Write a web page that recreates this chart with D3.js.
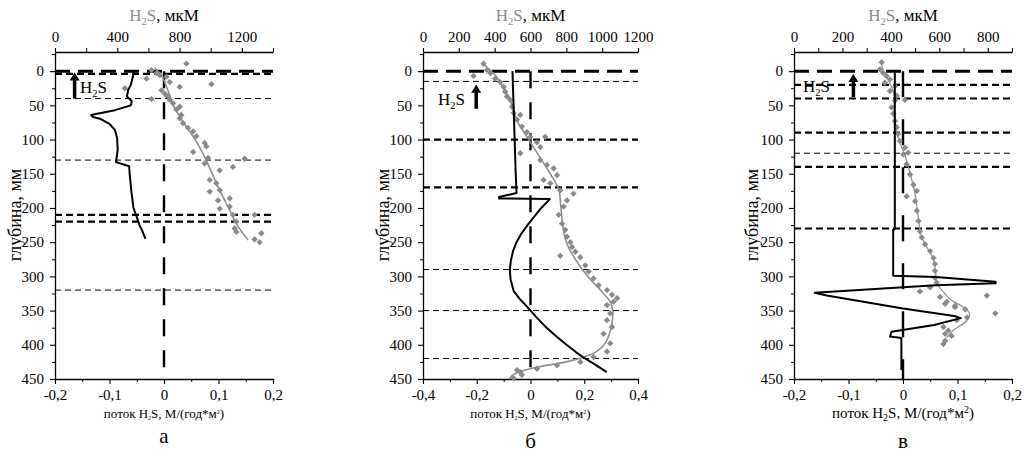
<!DOCTYPE html>
<meta charset="utf-8">
<script src="https://cdn.jsdelivr.net/npm/d3@7"></script>
<style>
  body { margin: 0; background: #fff; }
  svg text { font-family: "Liberation Serif", "Times New Roman", serif; }
</style>
<div id="chart"></div>
<script>

// ---- data ----
var depthTicks = [0, 50, 100, 150, 200, 250, 300, 350, 400, 450];
var depthMinor = [-25, 25, 75, 125, 175, 225, 275, 325, 375, 425];

// panel a
var fluxTicksA = [-0.2, -0.1, 0, 0.1, 0.2];
var fluxMinorA = [-0.15, -0.05, 0.05, 0.15];
var concTicksA = [0, 400, 800, 1200];
var concMinorA = [200, 600, 1000, 1400];
var surfaceA = [0];
var heavyA = [4, 210, 220];
var lightA = [40, 130, 320];
var arrowA = [-0.164, 40, 2];
var fluxA = [[-0.055,0],[-0.057,8],[-0.061,20],[-0.066,28],[-0.068,37],[-0.059,44],[-0.061,50],[-0.09,57],[-0.134,64],[-0.13,67],
  [-0.116,70],[-0.1,77],[-0.09,86],[-0.086,98],[-0.085,115],[-0.088,133],[-0.064,139],[-0.063,150],[-0.06,175],[-0.056,200],
  [-0.05,213],[-0.045,225],[-0.04,233],[-0.034,245]];
var concA = [[844,-11],[620,-1.5],[652,3],[673,6],[716,8],[588,11],[737,16],[801,23],[1004,19],[449,25],[684,28],[705,33],
  [620,41],[726,37],[737,42],[758,47],[801,52],[780,56],[812,64],[801,69],[822,76],[855,83],[887,88],[908,95],[961,105],
  [972,110],[887,118],[1218,128],[983,127],[961,135],[1058,145],[1143,140],[994,159],[1036,164],[994,176],[1058,174],
  [1047,189],[1122,186],[1058,201],[1122,198],[1143,210],[1282,210],[1165,220],[1154,230],[1165,235],[1282,246],[1314,250],[1325,237]];
var fitA = [[640,-5],[680,5],[720,25],[760,50],[825,75],[900,100],[960,125],[1010,150],[1060,175],[1115,200],[1170,225],[1240,247]];

// panel b
var fluxTicksB = [-0.4, -0.2, 0, 0.2, 0.4];
var fluxMinorB = [-0.3, -0.1, 0.1, 0.3];
var concTicksB = [0, 200, 400, 600, 800, 1000, 1200];
var concMinorB = [];
var surfaceB = [0];
var heavyB = [100, 170];
var lightB = [15, 290, 350, 420];
var arrowB = [-0.202, 55, 20];
var fluxB = [[-0.067,0],[-0.063,50],[-0.059,100],[-0.055,150],[-0.052,178],[-0.117,184],[-0.117,186],[0.072,187],[0.04,200],
  [-0.009,224],[-0.035,238],[-0.052,250],[-0.065,263],[-0.073,277],[-0.077,290],[-0.074,305],[-0.062,322],[-0.04,333],
  [-0.018,342],[0,350],[0.025,361],[0.06,375],[0.1,389],[0.134,400],[0.17,411],[0.203,420],[0.245,430],[0.284,440]];
var concB = [[338,-11],[282,7],[357,-1.5],[376,3],[403,11],[431,16],[450,23],[459,30],[469,37],[487,42],[497,52],[506,61],
  [543,64],[525,71],[552,81],[580,89],[599,96],[682,96],[636,104],[655,111],[543,120],[655,130],[692,137],[729,142],[748,152],
  [673,159],[711,164],[766,174],[840,179],[804,189],[785,198],[757,210],[776,223],[794,232],[804,242],[822,250],[832,257],
  [850,264],[766,270],[878,272],[906,284],[925,293],[952,303],[980,313],[1027,320],[1055,327],[1083,332],[1027,342],[1064,337],
  [1045,354],[1027,364],[1055,374],[1008,384],[1045,398],[1027,410],[952,418],[878,425],[748,430],[636,435],[543,440],
  [525,437],[506,449],[552,444]];
var fitB = [[338,-10],[400,5],[450,25],[490,45],[530,75],[590,100],[650,125],[710,150],[760,175],[770,200],[780,225],[800,250],
  [850,275],[920,300],[990,320],[1050,340],[1060,355],[1045,380],[1010,400],[930,415],[800,425],[650,432],[530,440],[480,450]];

// panel c
var fluxTicksC = [-0.2, -0.1, 0, 0.1, 0.2];
var fluxMinorC = [-0.15, -0.05, 0.05, 0.15];
var concTicksC = [0, 200, 400, 600, 800];
var concMinorC = [100, 300, 500, 700, 900];
var surfaceC = [0];
var heavyC = [20, 40, 90, 140, 230];
var lightC = [120];
var arrowC = [-0.091, 38, 4];
var fluxC = [[-0.015,0],[-0.015,231],[-0.018,232],[-0.018,299],[0.06,301],[0.17,308],[0.17,310],[0.06,313],[-0.162,324],
  [-0.14,328],[0,347],[0.094,358],[0.106,361],[0.057,371],[-0.021,381],[-0.024,388],[-0.003,390],[-0.003,437]];
var concC = [[362,-13],[355,-2.5],[368,2.5],[382,7],[396,12],[375,17],[417,22],[396,29],[424,36],[458,42],[417,43],[403,53],
  [410,62],[417,73],[424,82],[430,92],[437,102],[458,112],[472,119],[451,122],[465,136],[479,151],[493,166],[507,175],
  [465,183],[500,190],[507,204],[514,219],[520,234],[527,243],[541,253],[562,263],[576,273],[582,282],[582,292],[582,302],
  [589,309],[562,316],[520,322],[603,330],[631,337],[665,343],[796,328],[624,340],[665,345],[707,348],[714,360],[831,354],
  [672,364],[617,374],[637,379],[624,384],[651,387],[624,394],[617,399]];
var fitC = [[360,-12],[370,0],[385,10],[405,25],[415,40],[412,60],[420,80],[432,100],[455,120],[480,150],[500,180],[512,210],
  [525,240],[550,258],[575,275],[585,295],[590,310],[615,322],[650,335],[700,345],[725,355],[710,366],[660,378],[630,390]];

// ---- layout ----
var svg = d3.select("#chart").append("svg")
    .attr("width", 1025)
    .attr("height", 458);

var y = d3.scaleLinear().domain([-28, 450]).range([52, 379]);

var loc = d3.formatLocale({decimal: ",", thousands: "", grouping: [3], currency: ["", ""], minus: "-"});
var fmt = loc.format("");
var fmtInt = d3.format("d");

var panels = [
  {left: 55, right: 273, flux: [-0.2, 0.2], conc: [0, 1400], fT: fluxTicksA, fM: fluxMinorA, cT: concTicksA, cM: concMinorA,
   surf: surfaceA, heavy: heavyA, light: lightA, arrow: arrowA, fl: fluxA, pts: concA, fit: fitA,
   zeroDash: "17,14", letter: "а", letterY: 443, yLabX: 15, h2sX: 80, h2sY: 93, big: false},
  {left: 423, right: 638, flux: [-0.4, 0.4], conc: [0, 1200], fT: fluxTicksB, fM: fluxMinorB, cT: concTicksB, cM: concMinorB,
   surf: surfaceB, heavy: heavyB, light: lightB, arrow: arrowB, fl: fluxB, pts: concB, fit: fitB,
   zeroDash: "17,14", letter: "б", letterY: 448, yLabX: 383, h2sX: 438, h2sY: 105, big: false},
  {left: 794, right: 1012, flux: [-0.2, 0.2], conc: [0, 900], fT: fluxTicksC, fM: fluxMinorC, cT: concTicksC, cM: concMinorC,
   surf: surfaceC, heavy: heavyC, light: lightC, arrow: arrowC, fl: fluxC, pts: concC, fit: fitC,
   zeroDash: "26,22", letter: "в", letterY: 448, yLabX: 752, h2sX: 803, h2sY: 92, big: true}
];

function styleAxis(g, size) {
  g.attr("font-family", null).attr("font-size", size);
  g.select(".domain").attr("stroke", "#000").attr("stroke-width", 1.3);
  g.selectAll(".tick line").attr("stroke", "#000").attr("stroke-width", 1.1);
  g.selectAll(".tick text").attr("fill", "#000");
}

function h2s(sel, x, yy, size, grey) {
  var col = grey ? "#8a8a8a" : "#000";
  var t = sel.append("text").attr("x", x).attr("y", yy).attr("font-size", size);
  t.append("tspan").text("H").attr("fill", col);
  t.append("tspan").text("2").attr("font-size", size * 0.62).attr("dy", size * 0.25).attr("fill", col);
  t.append("tspan").text("S").attr("dy", -size * 0.25).attr("fill", col);
  return t;
}

panels.forEach(function(p) {
  var x = d3.scaleLinear().domain(p.flux).range([p.left, p.right]);
  var c = d3.scaleLinear().domain(p.conc).range([p.left, p.right]);
  var g = svg.append("g");
  var mid = (p.left + p.right) / 2;

  // left axis
  var la = g.append("g").attr("transform", "translate(" + p.left + ",0)")
    .call(d3.axisLeft(y).tickValues(depthTicks).tickSize(5).tickSizeOuter(0).tickPadding(6));
  styleAxis(la, 15);
  g.append("g").attr("transform", "translate(" + p.left + ",0)")
    .call(d3.axisLeft(y).tickValues(depthMinor).tickSize(3).tickFormat(""))
    .call(function(s) { s.select(".domain").remove(); s.selectAll("line").attr("stroke", "#000"); });

  // bottom axis
  var ba = g.append("g").attr("transform", "translate(0," + y(450) + ")")
    .call(d3.axisBottom(x).tickValues(p.fT).tickFormat(fmt).tickSize(5).tickSizeOuter(0).tickPadding(5));
  styleAxis(ba, 15);
  g.append("g").attr("transform", "translate(0," + y(450) + ")")
    .call(d3.axisBottom(x).tickValues(p.fM).tickSize(3).tickFormat(""))
    .call(function(s) { s.select(".domain").remove(); s.selectAll("line").attr("stroke", "#000"); });

  // top axis (concentration)
  var ta = g.append("g").attr("transform", "translate(0," + y(-28) + ")")
    .call(d3.axisTop(c).tickValues(p.cT).tickFormat(fmtInt).tickSize(4).tickSizeOuter(0).tickPadding(6));
  styleAxis(ta, 15);
  g.append("g").attr("transform", "translate(0," + y(-28) + ")")
    .call(d3.axisTop(c).tickValues(p.cM).tickSize(4).tickFormat(""))
    .call(function(s) { s.select(".domain").remove(); s.selectAll("line").attr("stroke", "#000"); });

  // horizontal boundary lines
  g.selectAll(".surf").data(p.surf).enter().append("line")
    .attr("x1", p.left).attr("x2", p.right).attr("y1", function(d) { return y(d); }).attr("y2", function(d) { return y(d); })
    .attr("stroke", "#000").attr("stroke-width", 3).attr("stroke-dasharray", "15,8");
  g.selectAll(".heavy").data(p.heavy).enter().append("line")
    .attr("x1", p.left).attr("x2", p.right).attr("y1", function(d) { return y(d); }).attr("y2", function(d) { return y(d); })
    .attr("stroke", "#000").attr("stroke-width", 2.2).attr("stroke-dasharray", "7,4");
  g.selectAll(".light").data(p.light).enter().append("line")
    .attr("x1", p.left).attr("x2", p.right).attr("y1", function(d) { return y(d); }).attr("y2", function(d) { return y(d); })
    .attr("stroke", "#000").attr("stroke-width", 1).attr("stroke-dasharray", "6,4");

  // zero flux line
  g.append("line").attr("x1", x(0)).attr("x2", x(0)).attr("y1", y(0)).attr("y2", y(450))
    .attr("stroke", "#000").attr("stroke-width", 2.4).attr("stroke-dasharray", p.zeroDash);

  // H2S concentration: fit line + points
  g.append("path").datum(p.fit)
    .attr("d", d3.line().x(function(d) { return c(d[0]); }).y(function(d) { return y(d[1]); }).curve(d3.curveMonotoneY))
    .attr("fill", "none").attr("stroke", "#8f8f8f").attr("stroke-width", p.big ? 1.2 : 1.6);
  g.selectAll(".pt").data(p.pts).enter().append("path")
    .attr("d", d3.symbol(d3.symbolSquare, 20))
    .attr("transform", function(d) { return "translate(" + c(d[0]) + "," + y(d[1]) + ") rotate(45)"; })
    .attr("fill", "#8a8a8a");

  // flux profile
  g.append("path").datum(p.fl)
    .attr("d", d3.line().x(function(d) { return x(d[0]); }).y(function(d) { return y(d[1]); }))
    .attr("fill", "none").attr("stroke", "#000").attr("stroke-width", 2).attr("stroke-linejoin", "round");

  // arrow with label
  var ax = x(p.arrow[0]);
  g.append("line").attr("x1", ax).attr("x2", ax).attr("y1", y(p.arrow[1])).attr("y2", y(p.arrow[2]) + 7)
    .attr("stroke", "#000").attr("stroke-width", 3.5);
  g.append("path")
    .attr("d", "M" + (ax - 5) + "," + (y(p.arrow[2]) + 8) + "L" + ax + "," + y(p.arrow[2]) + "L" + (ax + 5) + "," + (y(p.arrow[2]) + 8) + "Z")
    .attr("fill", "#000");
  h2s(g, p.h2sX, p.h2sY, 17, false);

  // top title
  var tt = h2s(g, mid, 21, 17, true).attr("text-anchor", "middle");
  tt.append("tspan").text(", мкМ").attr("fill", "#000");

  // bottom title
  var bs = p.big ? 15 : 13;
  var bt = g.append("text").attr("x", mid).attr("y", 418).attr("text-anchor", "middle").attr("font-size", bs);
  bt.append("tspan").text("поток H");
  bt.append("tspan").text("2").attr("font-size", p.big ? 10 : 6).attr("dy", p.big ? 3 : 2);
  bt.append("tspan").text("S, M/(год*м").attr("dy", p.big ? -3 : -2);
  bt.append("tspan").text("2").attr("font-size", p.big ? 10 : 6).attr("dy", p.big ? -5 : -4);
  bt.append("tspan").text(")").attr("dy", p.big ? 5 : 4);

  // y label
  g.append("text").attr("transform", "translate(" + p.yLabX + ",215) rotate(-90)")
    .attr("text-anchor", "middle").attr("dy", "0.35em").attr("font-size", 18)
    .text("глубина, мм");

  // panel letter
  g.append("text").attr("x", mid).attr("y", p.letterY).attr("text-anchor", "middle").attr("font-size", 21).text(p.letter);
});

</script>
